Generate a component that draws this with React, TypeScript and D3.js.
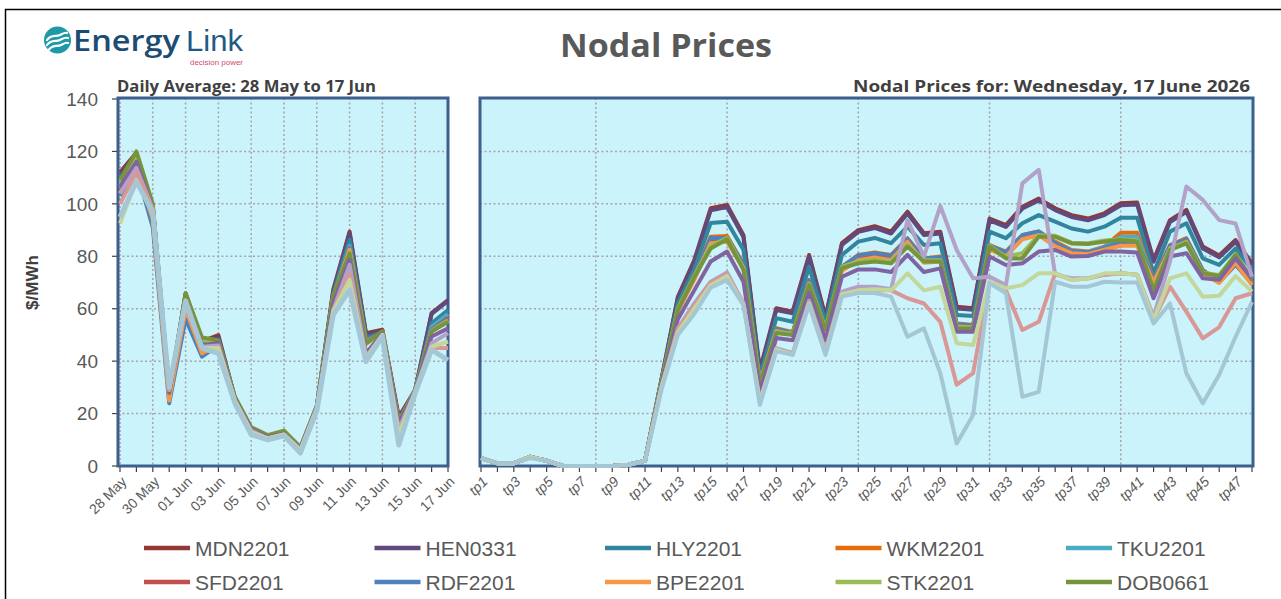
import React from "react";
import * as d3 from "d3";

// ---------- categories ----------
const days = ["28 May","29 May","30 May","31 May","01 Jun","02 Jun","03 Jun","04 Jun","05 Jun","06 Jun","07 Jun","08 Jun","09 Jun","10 Jun","11 Jun","12 Jun","13 Jun","14 Jun","15 Jun","16 Jun","17 Jun"];
const tps = Array.from({ length: 48 }, (_, i) => `tp${i + 1}`);
const yTicks = [0, 20, 40, 60, 80, 100, 120, 140];

// ---------- series names / colours ----------
const seriesNames = ["MDN2201","HEN0331","HLY2201","WKM2201","TKU2201","SFD2201","RDF2201","BPE2201","STK2201","DOB0661","ISL2201","BEN2201","INV2201","HWB2201","NSY2201"];
const seriesColors = ["#953735","#604a7b","#31859c","#e46c0a","#4bacc6","#c0504d","#4f81bd","#f79646","#9bbb59","#77933c","#8064a2","#b3a2c7","#d99795","#c4d79b","#a5c6d5"];

// ---------- daily averages (28 May .. 17 Jun) ----------
const MDN_daily = [112,119.5,99,28,65.9,47.5,49.9,26,14.3,11.2,12.5,6.8,22.6,67.2,89.4,50.7,52,18.8,29,58.3,63.3];
const HEN_daily = [111,119,99,28,65.5,47.5,49,26,14.3,11.2,12.5,6.8,22.6,66.5,88.8,50,51.5,18,29,58,63];
const HLY_daily = [110,117,98,27,64,47,48,26,14,11,12.5,6.8,22.5,65.5,86.2,48.8,51,17,29,54.4,59.5];
const WKM_daily = [104,115,95,25.8,61,43,46,25.5,14,11,12.3,6.7,22.4,64.5,83,47.5,51,15,28.8,52.5,57];
const TKU_daily = [106,115.5,96,27,62,45,46.5,25.5,14,11,12.3,6.7,22.4,64.5,84,47.5,51,16.5,29,53,58];
const SFD_daily = [105,115,96,26.5,62,44.5,46,25.5,14,11,12.3,6.7,22.4,64,83,47,51,16,28.8,52,56.5];
const RDF_daily = [103,113,91,23.9,56,41.7,46,25.5,14,11,12.3,6.7,22.4,64,83,47,51,16,28.8,52,56];
const BPE_daily = [104,114,94,25,60,43,46,25.3,14,11,12.3,6.7,22.4,64,82.5,47,51,14,28.5,51.5,55.5];
const STK_daily = [107,118,99,27.5,64,48,47.5,26,14.5,11.5,13,7,22.8,64.5,81.5,46.5,51,17,29,51.5,55.5];
const DOB_daily = [109,120,100,28,65.9,49,48,26.5,14.8,11.8,13.5,7.2,23,65,81,46.8,51.5,17,29.2,51.3,55];
const ISL_daily = [106.6,116,98,28,63,46,47,25.5,14,11,12.3,6.7,22.4,62,78.6,43,50.5,16,28.8,49.4,52.5];
const BEN_daily = [104,113.7,98,29,62,45.5,46,25,13.5,10.5,12,6.2,22,59.5,76.7,41.7,50,14,28.5,46.8,50.7];
const INV_daily = [100,112,98,29,61,45,45,25,13,10.5,12,6,21.8,59,73,41,50,12,28.3,45,45];
const HWB_daily = [92.5,109,96,30,62,45,45,25,13,10.5,12,6,21.8,59,71,41,50,12,28.3,45.5,47.5];
const NSY_daily = [95,108.5,97,30,63,45,43,24,12,10,11.5,5,21,57.6,67.2,39.8,49.4,8,27.8,44.3,40.4];

// ---------- trading periods, 17 June ----------
const MDN_tp = [3,1,1,3.5,2,0,0,0,0,0.5,2,33,64.5,78.5,98.3,99.6,88,36.6,60.2,58.9,80.5,57,85,90,91.5,89.4,97,88.8,89.4,60.8,60.2,94.4,91.9,98.9,102,98.3,95.7,94.4,96.4,100.2,100.5,78.6,93.8,97.7,83.7,80.3,86.2,77.3];
const HEN_tp = [3,1,1,3.5,2,0,0,0,0,0.5,2,32.8,64,78,97.5,98.8,87.3,36,59.5,58.3,79.8,56.5,84.3,89.3,90.8,88.7,96.3,88.1,88.7,60.1,59.6,93.7,91.2,98.2,101.3,97.6,95,93.7,95.7,99.5,99.8,77.9,93.1,97,83,79.6,85.5,76.6];
const HLY_tp = [3,1,1,3.5,2,0,0,0,0,0.5,2,32.5,62,75,92.7,93.2,82.5,34,56.4,55,76,54.6,80.5,85.6,87,85,91.3,84.3,85,57.6,57.2,89.4,86.9,92.6,95.7,93.2,90.6,89.4,91.3,94.7,94.7,73.5,89.4,92.6,79.2,76.7,83,74.8];
const WKM_tp = [3,1,1,3.5,2,0,0,0,0,0.5,2,32,60,72.5,87.5,87.7,77,32,52.6,51,71,52.5,76,80.5,81.5,80.5,86.9,79.2,79.9,54.4,53.8,84.3,81.8,88.1,89.5,85.6,82.4,81.8,83.7,89,89,71,84.3,86.9,74.8,70.3,77.3,69.7];
const TKU_tp = [3,1,1,3.5,2,0,0,0,0,0.5,2,32,59.5,72,86.5,87,76.5,32,52,50.5,70.5,52.5,75.5,80,81,80,86.5,79,79.5,54,53.5,84,81.5,87.5,89,85,82,81.5,83.5,87.5,87.5,70.5,83.8,86.3,74.3,70.8,77,70];
const SFD_tp = [3,1,1,3.5,2,0,0,0,0,0.5,2,31.8,59.5,72,86,86.5,76,31.8,52,50.5,70,52,75,79.5,80.5,79.5,86,78.5,79,53.8,53.2,83.5,81,87.5,88.5,84.5,81.5,81,83,84.3,84.5,70.5,83.5,86,74,70,76.8,69.5];
const RDF_tp = [3,1,1,3.5,2,0,0,0,0,0.5,2,32,60,72.5,87,87,76.8,32,52.3,50.8,70.8,52.5,76,80.3,81.2,80.2,86.5,79.2,79.5,54.2,53.6,84,81.5,88,89.5,85,82,81.5,83.2,85.5,85.5,70.8,84,86.5,74.5,70.5,77,69.8];
const BPE_tp = [3,1,1,3.5,2,0,0,0,0,0.5,2,31.5,59,71,85,85.5,75.5,31.5,51.5,50,69.5,51.8,74.5,78.5,79.5,78.5,85.5,77.5,78,53.2,52.8,82.5,80,86.5,88,83.8,81.2,80.8,82.5,84,84,70,82.8,85.5,73.5,69.8,77.5,69];
const STK_tp = [3,1,1,3.5,2,0,0,0,0,0.5,2,32,60,72.5,84,87,75.5,31.8,51.2,50.5,69.5,52.3,76,78,78.7,78,84.3,78.5,78.5,52.8,52.8,84,79.8,81.2,88,87.8,85.2,85,86,86.5,86,67.5,83,85.3,73.8,72.8,80.8,71.3];
const DOB_tp = [3,1,1,3.5,2,0,0,0,0,0.5,2,32,59.5,72,83,86.5,74.8,31.5,50.7,50,69,52,75.5,77.3,78,77.3,83.7,78,78,52.5,52.5,83.7,79.2,79.2,87.5,87.5,84.9,84.7,85.6,86.2,85.6,67,82.4,84.9,73.5,72.5,80.5,71];
const ISL_tp = [3,1,1,3.5,2,0,0,0,0,0.5,2,31,56,67,78,81.8,70.3,28,48.8,48,66,48,72.2,75,75,74,80.5,74,75.4,51.2,51.2,79.9,76.7,77.3,81.8,82.4,79.9,80.1,81.8,81.8,81.4,64,79.9,81.2,71.6,71,79.2,71.6];
const BEN_tp = [3,1,1,3.5,2,0,0,0,0,0.5,2,30,52.5,62,70.3,73.8,62,25,45,43,63,44,66.5,68.4,68.4,67.4,93.8,79.9,99.2,82.4,71.6,72.2,69,107.8,113,73,71.6,71.6,73,73.5,73,57,78,106.6,101.5,93.8,92.5,72.2];
const INV_tp = [3,1,1,3.5,2,0,0,0,0,0.5,2,30,52,61,70,73,62,24.5,44.5,42.5,62,43,65.5,67,67,67,64,62,55,31,35.4,70.3,67,51.9,55,73.5,71,71.5,73,73.5,73,55.7,68.4,58.9,48.7,53,64,65.9];
const HWB_tp = [3,1,1,3.5,2,0,0,0,0,0.5,2,30,51,60,69,72.5,61.5,24.5,44.5,42.5,62,43,65.5,67,67.4,67,73.5,67,68.4,46.8,46.2,70.3,67.8,69,73.5,73.5,71,71.5,73.5,73.5,73,55.7,71.6,73.5,64.6,64.9,72.5,66.5];
const NSY_tp = [3,1,1,3,2,0,0,0,0,0.5,2,29,50,58,68,71,61.5,23.3,43.8,42.4,61.5,42.4,64.6,66,66,64.6,49.3,52.5,35.4,8.6,19.5,69.7,65.9,26.4,28.3,70.3,68.4,68.4,70.3,70,70,54.4,62,35.4,23.9,34.8,49.3,62.6];

const dailyData = [MDN_daily,HEN_daily,HLY_daily,WKM_daily,TKU_daily,SFD_daily,RDF_daily,BPE_daily,STK_daily,DOB_daily,ISL_daily,BEN_daily,INV_daily,HWB_daily,NSY_daily];
const tpData = [MDN_tp,HEN_tp,HLY_tp,WKM_tp,TKU_tp,SFD_tp,RDF_tp,BPE_tp,STK_tp,DOB_tp,ISL_tp,BEN_tp,INV_tp,HWB_tp,NSY_tp];
const legendCount = 10;

const W = 1281, H = 599;
const PLOT_BG = "#caf3fb";
const BOX = "#3c5f8e";
const GRID = "#a6a6a6";
const TXT = "#595959";
const SANS = "'Liberation Sans', Arial, sans-serif";
const HEAD = "'Open Sans', 'Liberation Sans', sans-serif";

export default function App() {
  const y = d3.scaleLinear().domain([0, 140]).range([466, 99]);
  const xL = d3.scalePoint<string>().domain(days).range([120, 448]);
  const xR = d3.scalePoint<string>().domain(tps).range([481, 1252]);

  const lineL = d3.line<number>().x((_, i) => xL(days[i])!).y((d) => y(d)).curve(d3.curveLinear);
  const lineR = d3.line<number>().x((_, i) => xR(tps[i])!).y((d) => y(d)).curve(d3.curveLinear);

  const L = { x0: 118, x1: 448, y0: 98, y1: 466 };
  const R = { x0: 480, x1: 1253, y0: 98, y1: 466 };

  const gridY = yTicks.filter((t) => t > 0 && t < 140);
  const gridLdays = days.filter((_, i) => i > 0 && i < days.length - 1 && i % 2 === 0);
  const gridRtps = tps.filter((_, i) => (i + 1) % 8 === 0 && i < tps.length - 1);

  return (
    <svg width={W} height={H} style={{ position: "absolute", left: 0, top: 0, background: "#fff" }}>
      {/* outer frame */}
      <rect x={5.5} y={9.5} width={1300} height={620} fill="none" stroke="#000" strokeWidth={1.5} />

      {/* logo */}
      <g>
        <circle cx={57.5} cy={40} r={13.5} fill="#1e99a6" />
        <path d="M47,40 C51,34 56,37 60,35 C63,33.5 65,32 67,33" stroke="#fff" strokeWidth={2.2} fill="none" strokeLinecap="round" />
        <path d="M47,45 C51,39 56,42 60,40 C63,38.5 65,37 68,38" stroke="#fff" strokeWidth={2.2} fill="none" strokeLinecap="round" />
        <path d="M49,49.5 C53,44 57,47 61,45 C64,43.5 66,42 68,43" stroke="#fff" strokeWidth={2.2} fill="none" strokeLinecap="round" />
        <text x={73} y={51} fontFamily={HEAD} fontWeight={600} fontSize={29} fill="#1c4c72" textLength={107} lengthAdjust="spacingAndGlyphs">Energy</text>
        <text x={186} y={51} fontFamily={SANS} fontWeight={400} fontSize={29} fill="#1f5a85" textLength={57} lengthAdjust="spacingAndGlyphs">Link</text>
        <text x={190} y={64.5} fontFamily={SANS} fontSize={8} fill="#cf4b6c" textLength={53} lengthAdjust="spacingAndGlyphs">decision power</text>
      </g>

      {/* titles */}
      <text x={666} y={57} textAnchor="middle" fontFamily={HEAD} fontWeight={700} fontSize={32} fill={TXT} textLength={212} lengthAdjust="spacingAndGlyphs">Nodal Prices</text>
      <text x={117} y={92} fontFamily={HEAD} fontWeight={700} fontSize={16} fill="#404040" textLength={259} lengthAdjust="spacingAndGlyphs">Daily Average: 28 May to 17 Jun</text>
      <text x={1250} y={92} textAnchor="end" fontFamily={HEAD} fontWeight={700} fontSize={16} fill="#404040" textLength={397} lengthAdjust="spacingAndGlyphs">Nodal Prices for: Wednesday, 17 June 2026</text>

      {/* y axis label */}
      <text transform={`translate(38,${(y(0) + y(140)) / 2}) rotate(-90)`} textAnchor="middle" fontFamily={SANS} fontWeight={700} fontSize={17} fill="#404040">$/MWh</text>

      {/* y ticks */}
      {yTicks.map((t) => (
        <g key={t}>
          <line x1={112} x2={117} y1={y(t)} y2={y(t)} stroke="#404040" strokeWidth={1.2} />
          <text x={98} y={y(t)} dy="0.35em" textAnchor="end" fontFamily={SANS} fontSize={19} fill={TXT}>{t}</text>
        </g>
      ))}

      {/* plot backgrounds */}
      <rect x={L.x0} y={L.y0} width={L.x1 - L.x0} height={L.y1 - L.y0} fill={PLOT_BG} />
      <rect x={R.x0} y={R.y0} width={R.x1 - R.x0} height={R.y1 - R.y0} fill={PLOT_BG} />

      {/* grids */}
      {gridY.map((t) => (
        <g key={"g" + t}>
          <line x1={L.x0} x2={L.x1} y1={y(t)} y2={y(t)} stroke={GRID} strokeWidth={1.5} strokeDasharray="2,2.5" />
          <line x1={R.x0} x2={R.x1} y1={y(t)} y2={y(t)} stroke={GRID} strokeWidth={1.5} strokeDasharray="2,2.5" />
        </g>
      ))}
      {gridLdays.map((d) => (
        <line key={d} x1={xL(d)} x2={xL(d)} y1={L.y0} y2={L.y1} stroke={GRID} strokeWidth={1.5} strokeDasharray="2,2.5" />
      ))}
      <line x1={xL(days[0])} x2={xL(days[0])} y1={L.y0} y2={L.y1} stroke="#d06060" strokeWidth={1} strokeDasharray="2,2" />
      {gridRtps.map((d) => (
        <line key={d} x1={xR(d)} x2={xR(d)} y1={R.y0} y2={R.y1} stroke={GRID} strokeWidth={1.5} strokeDasharray="2,2.5" />
      ))}

      {/* x ticks */}
      {days.map((d) => (
        <line key={"tl" + d} x1={xL(d)} x2={xL(d)} y1={466} y2={472} stroke="#404040" strokeWidth={1.2} />
      ))}
      {tps.map((d) => (
        <line key={"tr" + d} x1={xR(d)} x2={xR(d)} y1={466} y2={472} stroke="#404040" strokeWidth={1.2} />
      ))}

      {/* plot borders */}
      <rect x={L.x0} y={L.y0} width={L.x1 - L.x0} height={L.y1 - L.y0} fill="none" stroke={BOX} strokeWidth={3} />
      <rect x={R.x0} y={R.y0} width={R.x1 - R.x0} height={R.y1 - R.y0} fill="none" stroke={BOX} strokeWidth={3} />

      {/* lines */}
      {dailyData.map((vals, i) => (
        <path key={"l" + i} d={lineL(vals)!} fill="none" stroke={seriesColors[i]} strokeWidth={i === 14 ? 5 : 4} strokeLinejoin="round" />
      ))}
      {tpData.map((vals, i) => (
        <path key={"r" + i} d={lineR(vals)!} fill="none" stroke={seriesColors[i]} strokeWidth={4} strokeLinejoin="round" />
      ))}

      {/* x labels */}
      {days.map((d, i) =>
        i % 2 === 0 ? (
          <text key={"xl" + d} transform={`translate(${xL(d)! + 4},${479}) rotate(-45)`} textAnchor="end" dy="0.35em" fontFamily={SANS} fontSize={14} fill={TXT}>{d}</text>
        ) : null
      )}
      {tps.map((d, i) =>
        i % 2 === 0 ? (
          <text key={"xr" + d} transform={`translate(${xR(d)! + 4},${479}) rotate(-45)`} textAnchor="end" dy="0.35em" fontFamily={SANS} fontStyle="italic" fontSize={14} fill={TXT}>{d}</text>
        ) : null
      )}

      {/* legend */}
      {seriesNames.slice(0, legendCount).map((n, i) => {
        const col = i % 5, row = Math.floor(i / 5);
        const lx = 144 + col * 230.5, ly = 548 + row * 34;
        return (
          <g key={"lg" + n}>
            <line x1={lx} x2={lx + 46} y1={ly} y2={ly} stroke={seriesColors[i]} strokeWidth={4.5} />
            <text x={lx + 51} y={ly} dy="0.36em" fontFamily={SANS} fontSize={21} fill={TXT}>{n}</text>
          </g>
        );
      })}
    </svg>
  );
}
